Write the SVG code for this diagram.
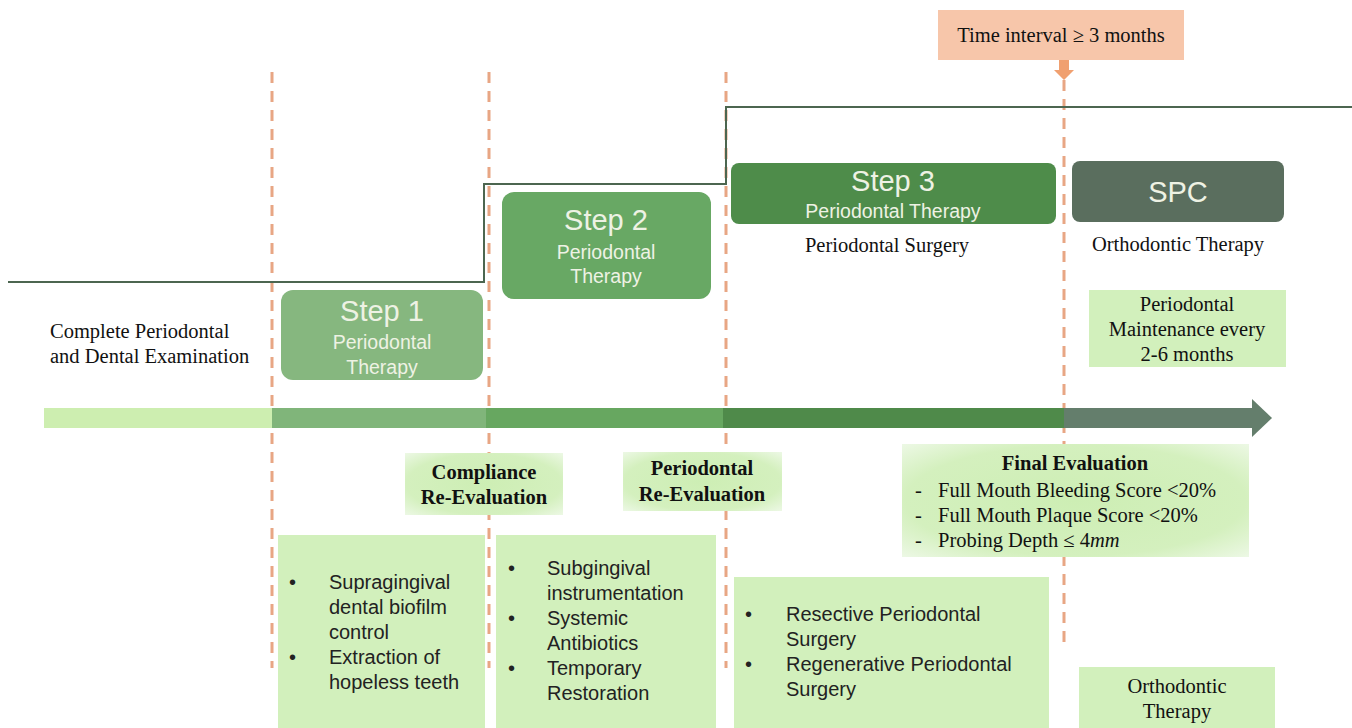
<svg xmlns="http://www.w3.org/2000/svg" width="1352" height="728" viewBox="0 0 1352 728">
<defs>
<radialGradient id="glow" cx="0.5" cy="0.5" r="0.7">
<stop offset="0" stop-color="#cdeeb4"/>
<stop offset="0.7" stop-color="#d4f0be"/>
<stop offset="1" stop-color="#ecf8e4"/>
</radialGradient>
<style>
.dash{stroke:#e8a684;stroke-width:3;stroke-dasharray:11 8;fill:none}
.step{fill:none;stroke:#4c6650;stroke-width:2}
.ser{font-family:"Liberation Serif","Times New Roman",serif;font-size:20.5px;fill:#111}
.serb{font-family:"Liberation Serif","Times New Roman",serif;font-size:20.5px;font-weight:bold;fill:#111}
.sans{font-family:"Liberation Sans",Arial,sans-serif;font-size:20px;fill:#222}
.title{font-family:"Liberation Sans",Arial,sans-serif;font-size:29px;fill:#eef2e4}
.sub{font-family:"Liberation Sans",Arial,sans-serif;font-size:19.5px;fill:#eef2e4}
.lbox{fill:url(#glow)}
.fbox{fill:#d2f0bc}
</style>
</defs>

<g id="dividers">
<line class="dash" x1="272" y1="72" x2="272" y2="668"/>
<line class="dash" x1="489" y1="72" x2="489" y2="668"/>
<line class="dash" x1="726" y1="72" x2="726" y2="668"/>
<line class="dash" x1="1064" y1="80" x2="1064" y2="650"/>
</g>

<g id="connectors">
<polyline class="step" points="8,282 484,282 484,184 726,184 726,107 1352,107"/>
</g>

<g id="timeline">
<rect x="44" y="408" width="228" height="20" fill="#cdeeb0"/>
<rect x="272" y="408" width="214" height="20" fill="#80b57a"/>
<rect x="486" y="408" width="237" height="20" fill="#67a760"/>
<rect x="723" y="408" width="341" height="20" fill="#4f8a4a"/>
<rect x="1064" y="408" width="190" height="20" fill="#647e6c"/>
<polygon points="1252,399 1272,418 1252,437" fill="#647e6c"/>
</g>

<g id="time-interval">
<rect x="938" y="10" width="246" height="50" fill="#f7c6aa"/>
<text class="ser" x="1061" y="42" text-anchor="middle">Time interval ≥ 3 months</text>
<polygon points="1059,60 1069,60 1069,70 1074,70 1064,80 1054,70 1059,70" fill="#f0a070"/>
</g>

<g id="exam">
<text class="ser" x="50" y="338">Complete Periodontal</text>
<text class="ser" x="50" y="363">and Dental Examination</text>
</g>

<g id="step1">
<rect x="281" y="290" width="202" height="90" rx="12" fill="#86b77f"/>
<text class="title" x="382" y="321" text-anchor="middle">Step 1</text>
<text class="sub" x="382" y="349" text-anchor="middle">Periodontal</text>
<text class="sub" x="382" y="374" text-anchor="middle">Therapy</text>
</g>

<g id="step2">
<rect x="502" y="192" width="209" height="107" rx="12" fill="#68a864"/>
<text class="title" x="606" y="230" text-anchor="middle">Step 2</text>
<text class="sub" x="606" y="259" text-anchor="middle">Periodontal</text>
<text class="sub" x="606" y="283" text-anchor="middle">Therapy</text>
</g>

<g id="step3">
<rect x="731" y="163" width="325" height="61" rx="8" fill="#4e8c4a"/>
<text class="title" x="893" y="191" text-anchor="middle">Step 3</text>
<text class="sub" x="893" y="218" text-anchor="middle">Periodontal Therapy</text>
<text class="ser" x="887" y="252" text-anchor="middle">Periodontal Surgery</text>
</g>

<g id="spc">
<rect x="1072" y="161" width="212" height="61" rx="8" fill="#5a6e5e"/>
<text class="title" x="1178" y="202" text-anchor="middle" font-size="31px">SPC</text>
<text class="ser" x="1178" y="251" text-anchor="middle">Orthodontic Therapy</text>
</g>

<g id="maintenance">
<rect x="1089" y="290" width="197" height="77" class="fbox"/>
<text class="ser" x="1187" y="311" text-anchor="middle">Periodontal</text>
<text class="ser" x="1187" y="336" text-anchor="middle">Maintenance every</text>
<text class="ser" x="1187" y="361" text-anchor="middle">2-6 months</text>
</g>

<g id="compliance">
<rect x="405" y="453" width="158" height="62" class="lbox"/>
<text class="serb" x="484" y="479" text-anchor="middle">Compliance</text>
<text class="serb" x="484" y="504" text-anchor="middle">Re-Evaluation</text>
</g>

<g id="perio-reeval">
<rect x="623" y="452" width="159" height="59" class="lbox"/>
<text class="serb" x="702" y="475" text-anchor="middle">Periodontal</text>
<text class="serb" x="702" y="501" text-anchor="middle">Re-Evaluation</text>
</g>

<g id="final-eval">
<rect x="902" y="444" width="347" height="113" class="lbox"/>
<text class="serb" x="1075" y="470" text-anchor="middle">Final Evaluation</text>
<text class="ser" x="915" y="497">-</text>
<text class="ser" x="938" y="497">Full Mouth Bleeding Score &lt;20%</text>
<text class="ser" x="915" y="522">-</text>
<text class="ser" x="938" y="522">Full Mouth Plaque Score &lt;20%</text>
<text class="ser" x="915" y="547">-</text>
<text class="ser" x="938" y="547">Probing Depth ≤ 4<tspan font-style="italic">mm</tspan></text>
</g>

<g id="step1-list">
<rect x="278" y="535" width="207" height="193" class="fbox"/>
<text class="sans" x="289" y="589">•</text>
<text class="sans" x="329" y="589">Supragingival</text>
<text class="sans" x="329" y="639" dy="-25">dental biofilm</text>
<text class="sans" x="329" y="639">control</text>
<text class="sans" x="289" y="664">•</text>
<text class="sans" x="329" y="664">Extraction of</text>
<text class="sans" x="329" y="689">hopeless teeth</text>
</g>

<g id="step2-list">
<rect x="496" y="535" width="220" height="193" class="fbox"/>
<text class="sans" x="508" y="575">•</text>
<text class="sans" x="547" y="575">Subgingival</text>
<text class="sans" x="547" y="600">instrumentation</text>
<text class="sans" x="508" y="625">•</text>
<text class="sans" x="547" y="625">Systemic</text>
<text class="sans" x="547" y="650">Antibiotics</text>
<text class="sans" x="508" y="675">•</text>
<text class="sans" x="547" y="675">Temporary</text>
<text class="sans" x="547" y="700">Restoration</text>
</g>

<g id="step3-list">
<rect x="734" y="577" width="315" height="151" class="fbox"/>
<text class="sans" x="745" y="621">•</text>
<text class="sans" x="786" y="621">Resective Periodontal</text>
<text class="sans" x="786" y="646">Surgery</text>
<text class="sans" x="745" y="671">•</text>
<text class="sans" x="786" y="671">Regenerative Periodontal</text>
<text class="sans" x="786" y="696">Surgery</text>
</g>

<g id="ortho">
<rect x="1079" y="667" width="196" height="61" class="fbox"/>
<text class="ser" x="1177" y="693" text-anchor="middle">Orthodontic</text>
<text class="ser" x="1177" y="718" text-anchor="middle">Therapy</text>
</g>
</svg>
